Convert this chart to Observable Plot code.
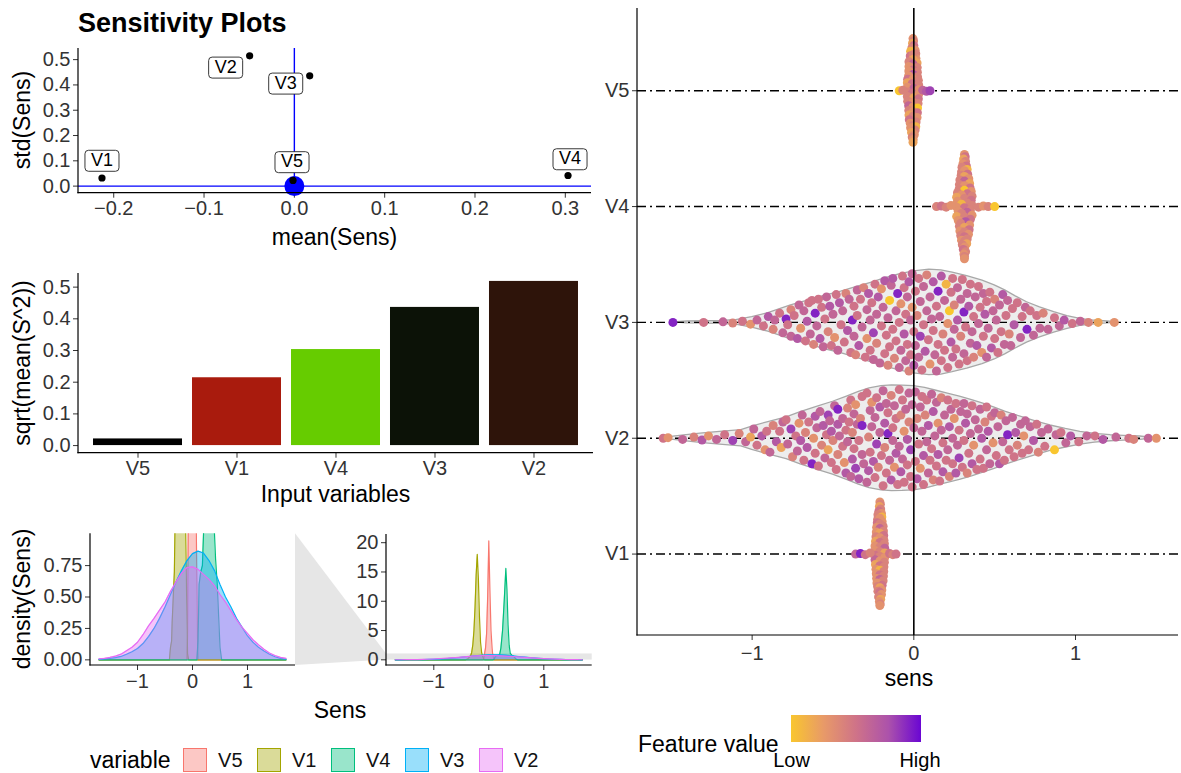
<!DOCTYPE html>
<html><head><meta charset="utf-8">
<script src="https://cdn.jsdelivr.net/npm/d3@7"></script>
<script src="https://cdn.jsdelivr.net/npm/@observablehq/plot@0.6"></script>
<style>
body{margin:0;background:#fff;}
#root{position:relative;width:1181px;height:773px;overflow:hidden;font-family:"Liberation Sans",Arial,Helvetica,sans-serif;color:#000;background:#fff;}
.t{position:absolute;white-space:nowrap;line-height:1;}
</style></head><body><div id="root"></div><script>
// ---------------- DATA ----------------
// Scatter: mean vs std of sensitivities
const scatterVars = ["V1","V2","V3","V4","V5"];
const meanSens = [-0.213,-0.0495,0.017,0.303,-0.0015];
const stdSens = [0.032,0.515,0.436,0.042,0.0225];
const originPoint = [{mean:0, std:0}];
const scatterXTicks = [-0.2,-0.1,0,0.1,0.2,0.3];
const scatterYTicks = [0,0.1,0.2,0.3,0.4,0.5];

// Bars: sqrt(mean(S^2))
const barVars = ["V5","V1","V4","V3","V2"];
const barValues = [0.021,0.214,0.303,0.436,0.518];
const barColors = ["#000000","#A91B0D","#66CC00","#0C1207","#2E140A"];
const barYTicks = [0,0.1,0.2,0.3,0.4,0.5];

// Densities
const densVars = ["V5","V1","V4","V3","V2"];
const densColors = ["#F8766D","#A3A500","#00BF7D","#00B0F6","#E76BF3"];
const densGrid = [-1.7,-1.6,-1.5,-1.4,-1.3,-1.2,-1.1,-1.0,-0.9,-0.8,-0.7,-0.6,-0.5,-0.4,-0.3,-0.2,-0.1,0,0.1,0.2,0.3,0.4,0.5,0.6,0.7,0.8,0.9,1.0,1.1,1.2,1.3,1.4,1.5,1.6,1.7];
const densV3 = [0.004,0.007,0.012,0.018,0.027,0.045,0.065,0.09,0.13,0.185,0.25,0.33,0.42,0.52,0.62,0.71,0.79,0.845,0.865,0.85,0.79,0.71,0.6,0.5,0.42,0.33,0.26,0.19,0.14,0.1,0.07,0.045,0.025,0.012,0.005];
const densV2 = [0.008,0.012,0.02,0.03,0.045,0.072,0.1,0.14,0.2,0.27,0.33,0.395,0.46,0.545,0.62,0.69,0.735,0.74,0.72,0.68,0.64,0.59,0.52,0.46,0.39,0.32,0.26,0.21,0.16,0.12,0.085,0.055,0.035,0.02,0.012];
const spikeV5 = [[-1.7,0],[-0.1,0],[-0.09,0.2],[-0.08,0.9],[-0.06,2],[-0.04,4.5],[-0.02,11],[0,20.3],[0.02,12],[0.04,5],[0.06,2],[0.07,1],[0.09,0.2],[0.1,0],[1.7,0]];
const spikeV1 = [[-1.7,0],[-0.42,0],[-0.4,0.1],[-0.38,0.15],[-0.37,0.3],[-0.35,0.5],[-0.33,0.7],[-0.31,1.3],[-0.29,2.6],[-0.27,5],[-0.25,9],[-0.23,14.5],[-0.21,18],[-0.19,14],[-0.17,7.5],[-0.15,3],[-0.13,1.2],[-0.11,0.6],[-0.1,0.3],[-0.09,0.05],[-0.07,0],[1.7,0]];
const spikeV4 = [[-1.7,0],[0.08,0],[0.1,0.15],[0.12,0.6],[0.15,0.7],[0.18,0.75],[0.2,1.0],[0.22,2],[0.25,5],[0.28,10],[0.31,15.6],[0.33,12],[0.35,6],[0.37,2.5],[0.39,1.1],[0.42,0.8],[0.45,0.6],[0.47,0.4],[0.5,0.1],[0.53,0],[1.7,0]];
const densLeftYTicks = [0,0.25,0.5,0.75];
const densRightYTicks = [0,5,10,15,20];
const densXTicks = [-1,0,1];

// Swarm / violin panel
const swarmTicks = [1,2,3,4,5];
const swarmTickLabels = ["V1","V2","V3","V4","V5"];
const swarmXTicks = [-1,0,1];
const violinV3 = [[-1.49,0],[-1.4,0.008],[-1.3,0.01],[-1.2,0.012],[-1.1,0.02],[-1.0,0.046],[-0.9,0.08],[-0.76,0.147],[-0.65,0.19],[-0.554,0.23],[-0.45,0.265],[-0.367,0.3],[-0.27,0.34],[-0.18,0.38],[-0.09,0.415],[0,0.44],[0.096,0.455],[0.17,0.45],[0.24,0.43],[0.33,0.4],[0.425,0.36],[0.5,0.32],[0.565,0.276],[0.63,0.225],[0.7,0.174],[0.78,0.13],[0.868,0.088],[0.95,0.055],[1.03,0.03],[1.1,0.018],[1.15,0.012],[1.2,0.008],[1.26,0]];
const violinV2 = [[-1.552,0],[-1.5,0.012],[-1.42,0.025],[-1.32,0.04],[-1.2,0.055],[-1.067,0.07],[-1.0,0.1],[-0.9,0.14],[-0.787,0.18],[-0.7,0.225],[-0.6,0.27],[-0.5,0.315],[-0.414,0.36],[-0.34,0.4],[-0.274,0.43],[-0.2,0.45],[-0.135,0.457],[-0.07,0.455],[0,0.45],[0.07,0.435],[0.14,0.41],[0.21,0.385],[0.285,0.36],[0.36,0.33],[0.425,0.3],[0.5,0.265],[0.565,0.23],[0.63,0.2],[0.7,0.17],[0.77,0.14],[0.845,0.11],[0.94,0.08],[1.03,0.055],[1.12,0.038],[1.217,0.026],[1.3,0.02],[1.4,0.015],[1.495,0]];
// points: [sens, vertical offset within row, feature value 0..9]
const pointsV5 = [[-0.005,0.45,3],[-0.002,0.43,4],[-0.008,0.41,2],[0.0,0.39,5],[-0.012,0.37,4],[0.008,0.35,3],[-0.02,0.34,1],[0.012,0.32,4],[-0.022,0.30,5],[0.013,0.28,3],[-0.005,0.31,4],[-0.005,0.27,2],[-0.03,0.25,4],[0.02,0.24,2],[-0.005,0.23,6],[-0.03,0.21,3],[0.021,0.2,4],[-0.005,0.18,5],[-0.031,0.17,3],[0.022,0.16,4],[-0.005,0.14,7],[-0.032,0.13,3],[0.023,0.12,4],[-0.038,0.1,5],[-0.005,0.1,3],[0.028,0.09,4],[-0.04,0.07,2],[-0.01,0.06,5],[0.03,0.05,4],[-0.04,0.03,3],[0.0,0.02,6],[0.03,0.01,3],[-0.04,-0.01,4],[-0.01,-0.02,5],[0.03,-0.03,3],[-0.04,-0.05,4],[0.0,-0.06,2],[0.028,-0.07,5],[-0.038,-0.09,4],[-0.005,-0.1,3],[0.026,-0.11,4],[-0.032,-0.13,6],[-0.005,-0.14,3],[0.023,-0.15,0],[-0.031,-0.17,4],[-0.005,-0.18,3],[0.022,-0.19,5],[-0.03,-0.21,2],[-0.005,-0.22,4],[0.02,-0.23,3],[-0.028,-0.25,5],[0.014,-0.27,4],[-0.022,-0.28,3],[-0.005,-0.3,4],[0.012,-0.31,1],[-0.02,-0.32,3],[0.008,-0.34,4],[-0.014,-0.36,2],[0.003,-0.38,3],[-0.01,-0.4,4],[-0.004,-0.42,3],[-0.005,-0.445,2],[-0.09,0,0],[-0.068,0.005,4],[0.055,0.005,6],[0.078,-0.005,7],[0.1,0,8]];
const pointsV4 = [[0.313,0.45,3],[0.318,0.43,5],[0.308,0.41,2],[0.32,0.39,4],[0.304,0.37,3],[0.325,0.35,5],[0.298,0.34,4],[0.33,0.32,1],[0.295,0.30,4],[0.313,0.31,3],[0.333,0.28,5],[0.293,0.27,4],[0.313,0.26,2],[0.34,0.24,3],[0.285,0.23,4],[0.313,0.22,6],[0.345,0.2,2],[0.282,0.19,4],[0.313,0.18,3],[0.348,0.16,5],[0.28,0.15,4],[0.313,0.14,0],[0.355,0.13,3],[0.27,0.12,4],[0.33,0.11,5],[0.295,0.1,3],[0.36,0.09,4],[0.265,0.08,2],[0.313,0.07,4],[0.355,0.055,5],[0.27,0.045,3],[0.33,0.03,4],[0.295,0.02,1],[0.36,0.01,4],[0.265,-0.005,3],[0.313,-0.01,5],[0.35,-0.03,4],[0.275,-0.04,3],[0.33,-0.05,6],[0.295,-0.06,4],[0.36,-0.075,3],[0.265,-0.085,2],[0.313,-0.09,4],[0.35,-0.11,5],[0.275,-0.12,3],[0.32,-0.13,7],[0.29,-0.145,4],[0.345,-0.16,3],[0.282,-0.17,4],[0.313,-0.18,2],[0.342,-0.2,5],[0.285,-0.21,3],[0.313,-0.22,4],[0.338,-0.24,3],[0.29,-0.25,4],[0.313,-0.26,5],[0.33,-0.28,4],[0.295,-0.29,3],[0.313,-0.3,4],[0.327,-0.32,2],[0.3,-0.33,4],[0.315,-0.35,3],[0.306,-0.37,5],[0.32,-0.39,4],[0.31,-0.41,3],[0.313,-0.43,4],[0.313,-0.45,3],[0.14,0,4],[0.17,0.005,5],[0.2,-0.005,4],[0.23,0.01,3],[0.4,-0.005,4],[0.43,0.005,3],[0.46,0,4],[0.5,0,0]];
const pointsV1 = [[-0.21,0.45,3],[-0.207,0.43,4],[-0.213,0.41,2],[-0.205,0.39,4],[-0.216,0.37,5],[-0.2,0.35,3],[-0.222,0.34,4],[-0.198,0.32,1],[-0.224,0.3,4],[-0.21,0.31,3],[-0.196,0.28,3],[-0.226,0.27,5],[-0.21,0.26,4],[-0.19,0.24,4],[-0.23,0.23,3],[-0.21,0.22,6],[-0.188,0.2,4],[-0.232,0.19,3],[-0.21,0.18,2],[-0.186,0.16,5],[-0.234,0.15,4],[-0.21,0.14,3],[-0.185,0.12,4],[-0.237,0.11,2],[-0.21,0.1,5],[-0.182,0.09,4],[-0.24,0.07,3],[-0.21,0.06,4],[-0.18,0.05,6],[-0.24,0.03,3],[-0.21,0.02,4],[-0.18,0.01,2],[-0.24,-0.01,5],[-0.21,-0.02,4],[-0.18,-0.03,3],[-0.24,-0.05,6],[-0.21,-0.06,3],[-0.182,-0.07,4],[-0.237,-0.09,2],[-0.21,-0.1,5],[-0.185,-0.11,4],[-0.234,-0.13,3],[-0.21,-0.14,1],[-0.186,-0.15,4],[-0.232,-0.17,3],[-0.21,-0.18,5],[-0.188,-0.19,4],[-0.23,-0.21,3],[-0.21,-0.22,6],[-0.19,-0.23,4],[-0.228,-0.25,3],[-0.196,-0.27,5],[-0.224,-0.28,4],[-0.21,-0.29,2],[-0.198,-0.31,3],[-0.222,-0.32,4],[-0.21,-0.33,5],[-0.2,-0.35,3],[-0.218,-0.37,4],[-0.205,-0.39,2],[-0.213,-0.41,3],[-0.208,-0.43,4],[-0.21,-0.445,3],[-0.36,0,6],[-0.33,0.005,9],[-0.3,-0.005,5],[-0.27,0.01,4],[-0.15,0.005,5],[-0.13,-0.005,4],[-0.11,0,5]];
const pointsV3 = [[-1.49,0,9],[-1.3,0,5],[-1.18,0.005,6],[-1.12,-0.005,4],[-1.06,0.01,5],[-1.01,-0.015,3],[-0.97,0.02,6],[-0.93,-0.03,5],[-0.9,0.05,7],[-0.87,-0.06,4],[-0.86,0.02,6],[-0.83,0.08,5],[-0.81,-0.09,6],[-0.79,0.03,9],[-0.78,-0.02,5],[-0.76,0.11,4],[-0.76,-0.12,6],[-0.74,0.06,5],[-0.72,-0.14,7],[-0.71,0.15,6],[-0.7,-0.05,3],[-0.68,0.1,6],[-0.67,-0.16,5],[-0.66,0.01,7],[-0.65,0.17,5],[-0.64,-0.1,6],[-0.63,0.19,5],[-0.62,-0.19,4],[-0.61,0.08,9],[-0.6,-0.03,6],[-0.59,0.2,5],[-0.58,-0.14,7],[-0.57,0.13,5],[-0.56,-0.21,6],[-0.55,0.03,5],[-0.54,0.22,6],[-0.53,-0.08,4],[-0.52,0.14,7],[-0.51,-0.2,5],[-0.5,0.07,6],[-0.49,-0.13,3],[-0.48,0.24,5],[-0.47,-0.24,6],[-0.46,0.17,7],[-0.45,-0.02,5],[-0.44,0.1,6],[-0.43,-0.17,5],[-0.42,0.25,4],[-0.41,-0.07,7],[-0.4,0.2,6],[-0.39,-0.26,5],[-0.38,0.02,9],[-0.37,0.14,5],[-0.37,-0.12,6],[-0.36,-0.28,4],[-0.35,0.28,6],[-0.35,0.06,5],[-0.34,-0.2,7],[-0.33,0.2,5],[-0.32,-0.04,6],[-0.31,0.3,4],[-0.3,-0.3,5],[-0.29,0.11,6],[-0.29,-0.14,3],[-0.28,0.25,7],[-0.27,-0.24,5],[-0.27,0.02,6],[-0.26,0.17,5],[-0.25,-0.32,6],[-0.25,-0.09,8],[-0.24,0.33,5],[-0.23,0.07,6],[-0.23,-0.18,4],[-0.22,0.22,7],[-0.21,-0.35,6],[-0.2,-0.03,5],[-0.2,0.29,3],[-0.19,0.13,6],[-0.18,-0.27,5],[-0.18,0.36,7],[-0.17,-0.11,5],[-0.16,0.04,6],[-0.16,-0.37,4],[-0.15,0.19,0],[-0.15,-0.21,5],[-0.14,0.32,6],[-0.13,-0.06,5],[-0.13,0.38,7],[-0.12,-0.31,4],[-0.11,0.1,6],[-0.11,-0.16,5],[-0.1,0.25,9],[-0.09,-0.39,6],[-0.09,0.0,5],[-0.08,0.16,3],[-0.08,-0.24,6],[-0.07,0.4,5],[-0.06,-0.1,7],[-0.06,0.3,5],[-0.05,-0.33,6],[-0.05,0.07,5],[-0.04,0.22,6],[-0.04,-0.19,5],[-0.03,-0.42,4],[-0.03,0.35,7],[-0.02,0.02,6],[-0.02,-0.28,5],[-0.01,0.13,3],[-0.01,0.42,6],[0.0,-0.08,5],[0.0,-0.37,7],[0.01,0.27,5],[0.01,-0.2,6],[0.02,0.06,4],[0.03,-0.3,6],[0.03,0.38,5],[0.04,-0.12,8],[0.04,0.18,6],[0.05,-0.41,5],[0.06,0.31,6],[0.06,-0.02,5],[0.07,-0.25,7],[0.08,0.1,6],[0.08,0.41,4],[0.09,-0.15,5],[0.1,0.22,6],[0.1,-0.36,3],[0.11,0.03,6],[0.12,-0.07,5],[0.12,0.35,7],[0.13,-0.28,6],[0.14,0.14,5],[0.14,-0.42,6],[0.15,-0.19,5],[0.15,0.27,9],[0.16,0.05,6],[0.17,-0.33,5],[0.17,0.4,7],[0.18,-0.1,4],[0.19,0.19,6],[0.19,-0.24,5],[0.2,0.33,1],[0.21,-0.01,3],[0.21,-0.39,5],[0.22,0.1,0],[0.23,-0.17,7],[0.23,0.26,5],[0.24,-0.3,6],[0.24,0.38,5],[0.25,-0.06,6],[0.25,0.15,4],[0.26,-0.23,5],[0.27,0.3,6],[0.27,0.02,7],[0.28,-0.36,5],[0.29,0.2,6],[0.29,-0.12,4],[0.3,0.37,5],[0.31,-0.27,6],[0.31,0.09,9],[0.32,-0.04,5],[0.33,0.25,6],[0.33,-0.33,5],[0.34,0.14,7],[0.35,-0.18,6],[0.35,0.33,5],[0.36,-0.08,6],[0.37,0.05,5],[0.37,-0.3,4],[0.38,0.22,6],[0.39,-0.2,7],[0.4,0.31,5],[0.4,-0.01,6],[0.41,0.13,5],[0.42,-0.26,3],[0.43,0.25,6],[0.43,-0.12,5],[0.44,0.07,7],[0.45,-0.3,6],[0.45,0.18,5],[0.46,-0.05,6],[0.47,0.26,5],[0.48,-0.22,7],[0.49,0.1,6],[0.5,-0.14,5],[0.5,0.2,4],[0.51,0.02,6],[0.52,-0.26,5],[0.53,0.15,6],[0.54,-0.08,5],[0.55,0.24,7],[0.56,-0.19,6],[0.57,0.06,5],[0.58,0.19,6],[0.59,-0.1,4],[0.6,-0.2,6],[0.61,0.12,5],[0.62,-0.02,7],[0.64,0.17,5],[0.66,-0.13,6],[0.67,0.05,5],[0.69,0.13,6],[0.7,-0.06,9],[0.72,0.1,5],[0.74,-0.11,6],[0.76,0.06,5],[0.78,-0.05,6],[0.8,0.08,4],[0.83,-0.06,6],[0.87,0.04,5],[0.9,-0.03,6],[0.93,0.02,7],[0.98,-0.01,5],[1.03,0.01,6],[1.08,0,4],[1.14,0,2],[1.24,0,3]];
const pointsV2 = [[-1.55,0,5],[-1.52,0.005,3],[-1.43,-0.01,6],[-1.36,0.01,4],[-1.31,-0.015,7],[-1.27,0.02,3],[-1.22,-0.01,6],[-1.17,0.03,5],[-1.12,-0.02,8],[-1.08,0.04,4],[-1.04,-0.03,6],[-1.01,0.01,2],[-0.99,0.08,6],[-0.97,-0.06,5],[-0.94,0.02,7],[-0.92,-0.1,3],[-0.91,0.06,5],[-0.89,-0.12,6],[-0.87,0.11,4],[-0.85,-0.03,7],[-0.83,0.06,5],[-0.82,-0.08,2],[-0.81,0.14,6],[-0.79,0.16,5],[-0.78,-0.05,6],[-0.76,0.08,8],[-0.75,-0.16,4],[-0.73,0.02,5],[-0.72,-0.11,6],[-0.71,0.13,3],[-0.7,-0.02,7],[-0.69,0.2,6],[-0.68,-0.19,5],[-0.67,0.05,4],[-0.66,-0.08,7],[-0.65,0.14,5],[-0.63,-0.22,9],[-0.62,0.0,3],[-0.61,0.19,7],[-0.61,-0.13,5],[-0.6,0.09,6],[-0.59,-0.24,5],[-0.58,0.23,6],[-0.57,-0.06,4],[-0.56,0.11,7],[-0.55,-0.17,6],[-0.54,0.03,5],[-0.53,0.2,8],[-0.53,-0.1,2],[-0.52,0.15,6],[-0.51,-0.21,5],[-0.51,0.06,7],[-0.5,-0.02,4],[-0.49,0.28,6],[-0.48,-0.27,5],[-0.47,0.12,7],[-0.47,-0.14,4],[-0.46,0.02,6],[-0.47,0.25,9],[-0.44,-0.07,5],[-0.44,0.17,6],[-0.43,-0.21,3],[-0.42,0.07,5],[-0.42,-0.3,7],[-0.41,0.26,4],[-0.41,-0.03,6],[-0.4,0.14,5],[-0.39,-0.33,6],[-0.39,0.33,5],[-0.38,-0.18,7],[-0.38,0.05,4],[-0.37,0.21,6],[-0.37,-0.09,5],[-0.36,-0.26,8],[-0.36,0.29,3],[-0.35,0.12,6],[-0.34,-0.02,5],[-0.34,-0.35,7],[-0.33,0.17,4],[-0.32,-0.14,6],[-0.32,0.36,5],[-0.31,-0.22,6],[-0.32,0.11,9],[-0.29,0.39,5],[-0.29,-0.38,6],[-0.28,0.01,4],[-0.28,-0.28,7],[-0.27,0.24,6],[-0.27,-0.12,5],[-0.26,0.31,3],[-0.26,0.1,6],[-0.25,-0.2,7],[-0.24,-0.34,5],[-0.24,0.18,6],[-0.23,-0.05,8],[-0.23,0.35,5],[-0.22,-0.25,4],[-0.21,0.05,6],[-0.21,0.27,7],[-0.2,-0.15,5],[-0.19,0.41,6],[-0.19,-0.41,5],[-0.18,0.13,7],[-0.18,-0.08,4],[-0.17,0.3,6],[-0.17,-0.3,5],[-0.16,0.04,9],[-0.16,0.22,5],[-0.15,-0.19,6],[-0.14,0.37,4],[-0.14,-0.36,7],[-0.13,0.09,5],[-0.13,-0.02,6],[-0.12,-0.25,3],[-0.12,0.28,6],[-0.11,0.17,5],[-0.11,-0.13,7],[-0.1,-0.4,5],[-0.09,0.42,5],[-0.09,-0.07,6],[-0.08,0.2,4],[-0.08,-0.29,7],[-0.07,0.33,5],[-0.07,-0.18,6],[-0.06,0.06,3],[-0.06,-0.38,5],[-0.05,0.25,6],[-0.04,-0.01,7],[-0.04,-0.23,5],[-0.03,0.14,4],[-0.03,0.39,6],[-0.02,-0.33,5],[-0.02,-0.1,8],[-0.01,0.29,6],[-0.01,-0.42,5],[0.0,0.09,6],[0.01,-0.2,5],[0.01,0.4,6],[0.02,0.17,4],[0.02,-0.35,7],[0.03,-0.05,5],[0.04,0.27,6],[0.04,-0.26,3],[0.05,0.06,6],[0.05,0.36,5],[0.06,-0.15,7],[0.06,-0.4,5],[0.07,0.2,4],[0.08,-0.03,6],[0.08,0.33,5],[0.09,-0.3,6],[0.09,0.11,7],[0.1,-0.19,5],[0.11,0.38,6],[0.11,-0.09,5],[0.12,0.23,7],[0.12,-0.36,4],[0.13,0.02,6],[0.14,-0.24,5],[0.14,0.31,6],[0.15,0.13,3],[0.15,-0.14,7],[0.16,-0.37,5],[0.17,0.07,6],[0.17,0.35,4],[0.18,-0.04,5],[0.18,-0.29,7],[0.19,0.2,6],[0.2,-0.19,5],[0.21,0.33,5],[0.21,-0.1,6],[0.22,0.1,7],[0.22,-0.33,4],[0.23,0.25,6],[0.24,-0.22,5],[0.24,0.0,6],[0.25,0.17,3],[0.26,-0.3,7],[0.26,0.3,5],[0.27,-0.06,6],[0.28,0.07,5],[0.28,-0.17,8],[0.29,0.23,6],[0.3,-0.25,5],[0.31,0.3,6],[0.31,-0.02,5],[0.32,0.13,7],[0.33,-0.3,4],[0.33,0.21,6],[0.34,-0.13,5],[0.35,0.04,6],[0.36,-0.22,7],[0.36,0.28,5],[0.37,-0.06,3],[0.38,0.16,6],[0.39,-0.27,5],[0.4,0.08,6],[0.41,-0.18,5],[0.41,0.25,6],[0.42,0.0,7],[0.43,-0.26,5],[0.44,0.14,4],[0.45,-0.1,6],[0.45,0.27,5],[0.46,0.06,7],[0.47,-0.22,6],[0.48,0.19,5],[0.49,-0.04,3],[0.5,0.22,6],[0.51,-0.15,5],[0.52,0.1,6],[0.53,-0.22,7],[0.54,0.2,4],[0.55,-0.03,6],[0.56,-0.19,5],[0.57,0.15,6],[0.58,0.03,9],[0.59,-0.1,5],[0.61,0.18,6],[0.62,-0.16,5],[0.63,0.05,7],[0.64,-0.06,4],[0.66,0.12,6],[0.67,-0.13,5],[0.68,0.02,3],[0.69,0.15,6],[0.71,-0.1,5],[0.72,0.1,6],[0.74,-0.02,7],[0.76,0.12,5],[0.77,-0.12,4],[0.79,0.05,6],[0.81,-0.07,5],[0.83,0.08,6],[0.87,-0.1,0],[0.88,0.03,6],[0.91,0.05,5],[0.94,-0.04,6],[0.97,0.02,7],[1.02,-0.03,5],[1.07,0.02,6],[1.12,0.02,5],[1.17,-0.01,7],[1.25,0.01,6],[1.33,0.0,5],[1.36,-0.01,4],[1.45,0.0,6],[1.5,0.0,3]];
const featureColors = ["#F9C62F","#E89A68","#CF7388","#AC52AB","#6A06D3"];
const featureDomain = [0, 10];

// ---------------- LAYOUT / STYLE ----------------
const FONT = '"Liberation Sans", Arial, Helvetica, sans-serif';
const root = document.getElementById("root");
const baseStyle = {fontFamily: FONT, fontSize: "20px", color: "#333", background: "transparent", overflow: "visible"};

function put(el, left, top) {
  el.style.position = "absolute"; el.style.left = left + "px"; el.style.top = top + "px";
  root.appendChild(el); return el;
}
function label(str, {x, y, size = 23, anchor = "middle", rotate = false, weight = "normal"}) {
  const d = document.createElement("div");
  d.className = "t"; d.textContent = str;
  d.style.fontSize = size + "px"; d.style.fontWeight = weight;
  root.appendChild(d);
  d.style.left = x + "px";
  if (rotate) { d.style.top = y + "px"; d.style.transform = "translate(-50%,-50%) rotate(-90deg)"; }
  else {
    d.style.top = (y - 0.8465 * size) + "px"; // y = baseline
    if (anchor === "middle") d.style.transform = "translateX(-50%)";
  }
  return d;
}
function axisLines(svg, m, w, h) {
  const s = d3.select(svg);
  const g = s.append("g").attr("stroke", "#000").attr("stroke-width", 1.2);
  g.append("line").attr("x1", m.left).attr("x2", m.left).attr("y1", m.top).attr("y2", h - m.bottom + 0.6);
  g.append("line").attr("x1", m.left - 0.6).attr("x2", w - m.right).attr("y1", h - m.bottom).attr("y2", h - m.bottom);
}

// overlay (zoom connector) goes beneath the plots
const overlay = d3.create("svg").attr("width", 1181).attr("height", 773).node();
put(overlay, 0, 0);

// ---------------- SCATTER ----------------
const scatterData = scatterVars.map((v, i) => ({v, mean: meanSens[i], std: stdSens[i]}));
const sxDom = [-0.239, 0.329], syDom = [-0.028, 0.544];
const labelNudge = {V1: [0, -18], V2: [-24, 11], V3: [-24, 7], V4: [2, -17], V5: [-1, -19]};
const sM = {left: 78, right: 9, top: 8, bottom: 25.3}, sW = 600, sH = 178;
const scatter = Plot.plot({
  width: sW, height: sH, marginLeft: sM.left, marginRight: sM.right, marginTop: sM.top, marginBottom: sM.bottom,
  style: baseStyle,
  x: {domain: sxDom, ticks: scatterXTicks, tickFormat: d3.format(".1f"), tickSize: 5, tickPadding: 3, label: null},
  y: {domain: syDom, ticks: scatterYTicks, tickFormat: d3.format(".1f"), tickSize: 5, tickPadding: 3, label: null},
  marks: [
    Plot.ruleY(originPoint, {y: "std", stroke: "#0000FF", strokeWidth: 1.4}),
    Plot.ruleX(originPoint, {x: "mean", stroke: "#0000FF", strokeWidth: 1.4}),
    Plot.dot(originPoint, {x: "mean", y: "std", r: 10, fill: "#0000FF", stroke: null}),
    Plot.dot(scatterData, {x: "mean", y: "std", r: 3.6, fill: "#000", stroke: null}),
    ...scatterVars.map(v => Plot.text(scatterData.filter(d => d.v === v), {
      x: "mean", y: "std", text: "v", dx: labelNudge[v][0], dy: labelNudge[v][1], fontSize: 18, fill: "#000"}))
  ]
});
put(scatter, 0, 40);
axisLines(scatter, sM, sW, sH);
scatter.querySelectorAll('g[aria-label="text"] text').forEach(t => {
  const b = t.getBBox();
  const r = document.createElementNS("http://www.w3.org/2000/svg", "rect");
  r.setAttribute("x", b.x - 6); r.setAttribute("y", b.y + 0.5);
  r.setAttribute("width", b.width + 12); r.setAttribute("height", b.height + 1);
  r.setAttribute("rx", 3.5); r.setAttribute("fill", "#fff"); r.setAttribute("stroke", "#222"); r.setAttribute("stroke-width", 0.9);
  if (t.getAttribute("transform")) r.setAttribute("transform", t.getAttribute("transform"));
  t.parentNode.insertBefore(r, t);
});

// ---------------- BARS ----------------
const barData = barVars.map((v, i) => ({v, val: barValues[i]}));
const byDom = [-0.024, 0.543];
const bM = {left: 78, right: 7, top: 8, bottom: 25}, bW = 600, bH = 212.7;
const bars = Plot.plot({
  width: bW, height: bH, marginLeft: bM.left, marginRight: bM.right, marginTop: bM.top, marginBottom: bM.bottom,
  style: baseStyle,
  x: {domain: barVars, paddingInner: 0.1, paddingOuter: 0.15, tickSize: 5, tickPadding: 3, label: null},
  y: {domain: byDom, ticks: barYTicks, tickFormat: d3.format(".1f"), tickSize: 5, tickPadding: 3, label: null},
  color: {domain: barVars, range: barColors},
  marks: [Plot.barY(barData, {x: "v", y: "val", fill: "v"})]
});
put(bars, 0, 265);
axisLines(bars, bM, bW, bH);

// ---------------- DENSITIES ----------------
const densSeries = {
  V5: spikeV5.map(([x, d]) => ({x, d})),
  V1: spikeV1.map(([x, d]) => ({x, d})),
  V4: spikeV4.map(([x, d]) => ({x, d})),
  V3: densGrid.map((x, i) => ({x, d: densV3[i]})),
  V2: densGrid.map((x, i) => ({x, d: densV2[i]}))
};
function densMarks(clip) {
  return densVars.flatMap((v, i) => [
    Plot.areaY(densSeries[v], {x: "x", y: "d", fill: densColors[i], fillOpacity: 0.4, clip}),
    Plot.lineY(densSeries[v], {x: "x", y: "d", stroke: densColors[i], strokeWidth: 1.2, clip})
  ]);
}
const lxDom = [-1.855, 1.873], lyDom = [-0.045, 1.003];
const lM = {left: 90, right: 1, top: 8.3, bottom: 25}, lW = 296, lH = 165;
const densLeft = Plot.plot({
  width: lW, height: lH, marginLeft: lM.left, marginRight: lM.right, marginTop: lM.top, marginBottom: lM.bottom,
  style: baseStyle,
  x: {domain: lxDom, ticks: densXTicks, tickFormat: d3.format("d"), tickSize: 5, tickPadding: 3, label: null},
  y: {domain: lyDom, ticks: densLeftYTicks, tickFormat: d3.format(".2f"), tickSize: 5, tickPadding: 3, label: null},
  marks: densMarks(true)
});
put(densLeft, 0, 525);
axisLines(densLeft, lM, lW, lH);

const rxDom = [-1.86, 1.88], ryDom = [-0.97, 21.4];
const zoomBand = [{x1: rxDom[0], x2: rxDom[1], y1: lyDom[0], y2: lyDom[1]}];
const rM = {left: 91, right: 3.3, top: 9, bottom: 25}, rW = 300, rH = 165;
const densRight = Plot.plot({
  width: rW, height: rH, marginLeft: rM.left, marginRight: rM.right, marginTop: rM.top, marginBottom: rM.bottom,
  style: baseStyle,
  x: {domain: rxDom, ticks: densXTicks, tickFormat: d3.format("d"), tickSize: 5, tickPadding: 3, label: null},
  y: {domain: ryDom, ticks: densRightYTicks, tickFormat: d3.format("d"), tickSize: 5, tickPadding: 3, label: null},
  marks: [Plot.rect(zoomBand, {x1: "x1", x2: "x2", y1: "y1", y2: "y2", fill: "#E6E6E6"}), ...densMarks(false)]
});
put(densRight, 295, 525);
axisLines(densRight, rM, rW, rH);

// zoom connector polygon, computed from the two panels' scales
(function () {
  const yR = v => rM.top + (ryDom[1] - v) / (ryDom[1] - ryDom[0]) * (rH - rM.top - rM.bottom);
  const Lx = 0 + lW - lM.right, Lt = 525 + lM.top, Lb = 525 + lH - lM.bottom;
  const Rx = 295 + rM.left, Rt = 525 + yR(lyDom[1]), Rb = 525 + yR(lyDom[0]);
  d3.select(overlay).append("polygon")
    .attr("points", [[Lx, Lt], [Rx, Rt], [Rx, Rb], [Lx, Lb]].map(p => p.join(",")).join(" "))
    .attr("fill", "#E6E6E6");
})();

// ---------------- SWARM / VIOLIN PANEL ----------------
const swarm = [["V5", 5, pointsV5], ["V4", 4, pointsV4], ["V3", 3, pointsV3], ["V2", 2, pointsV2], ["V1", 1, pointsV1]]
  .flatMap(([name, idx, pts]) => pts.map(([s, o, f]) => ({name, sens: s, y: idx + o, f})));
const violins = [[3, violinV3], [2, violinV2]];
const wxDom = [-1.709, 1.637], wyDom = [0.297, 5.71];
const wM = {left: 47, right: 3, top: 8, bottom: 25}, wW = 591, wH = 660;
const swarmPlot = Plot.plot({
  width: wW, height: wH, marginLeft: wM.left, marginRight: wM.right, marginTop: wM.top, marginBottom: wM.bottom,
  style: baseStyle,
  x: {domain: wxDom, ticks: swarmXTicks, tickFormat: d3.format("d"), tickSize: 5, tickPadding: 5, label: null},
  y: {domain: wyDom, ticks: swarmTicks, tickFormat: d => swarmTickLabels[d - 1], tickSize: 5, tickPadding: 3, label: null},
  color: {type: "linear", domain: featureDomain, interpolate: d3.piecewise(d3.interpolateRgb, featureColors)},
  marks: [
    ...violins.map(([idx, prof]) => Plot.areaY(prof, {x: d => d[0], y1: d => idx - d[1], y2: d => idx + d[1], fill: "#EDEDED", stroke: "#A8A8A8", strokeWidth: 1.3})),
    Plot.ruleY(swarmTicks, {stroke: "#000", strokeWidth: 1.4, strokeDasharray: "9,4,2,4"}),
    Plot.dot(swarm, {x: "sens", y: "y", fill: "f", r: 4.5, stroke: null}),
    Plot.ruleX([0], {stroke: "#000", strokeWidth: 1.6})
  ]
});
put(swarmPlot, 590, 0);
axisLines(swarmPlot, wM, wW, wH);

// ---------------- TEXT: titles & axis titles ----------------
label("Sensitivity Plots", {x: 78, y: 32.5, size: 27, anchor: "start", weight: "bold"});
label("std(Sens)", {x: 22, y: 120.4, rotate: true});
label("mean(Sens)", {x: 334.5, y: 245});
label("sqrt(mean(S^2))", {x: 22, y: 363, rotate: true});
label("Input variables", {x: 335.5, y: 502});
label("density(Sens)", {x: 22, y: 599, rotate: true});
label("Sens", {x: 340, y: 718});
label("sens", {x: 909, y: 686});

// ---------------- LEGENDS ----------------
const leg = document.createElement("div");
leg.style.cssText = "height:26px;display:flex;align-items:center;font-size:20px;line-height:1;white-space:nowrap;";
const lt = document.createElement("span"); lt.textContent = "variable"; lt.style.cssText = "font-size:23px;margin-right:12.5px;";
leg.appendChild(lt);
densVars.forEach((v, i) => {
  const k = document.createElement("div");
  const c = d3.color(densColors[i]); c.opacity = 0.4;
  k.style.cssText = `width:24px;height:24px;box-sizing:border-box;border:1.3px solid ${densColors[i]};background:${c.formatRgb()};margin-right:11px;`;
  const s = document.createElement("span"); s.textContent = v; s.style.cssText = "color:#111;margin-right:14.5px;";
  leg.appendChild(k); leg.appendChild(s);
});
put(leg, 90, 747);

const bar = document.createElement("div");
bar.style.cssText = `width:130px;height:27px;background:linear-gradient(to right, ${featureColors.join(",")});`;
put(bar, 791, 715);
label("Feature value", {x: 638, y: 752, anchor: "start"});
label("Low", {x: 791.5, y: 767, size: 20});
label("High", {x: 920, y: 767, size: 20});
</script></body></html>
